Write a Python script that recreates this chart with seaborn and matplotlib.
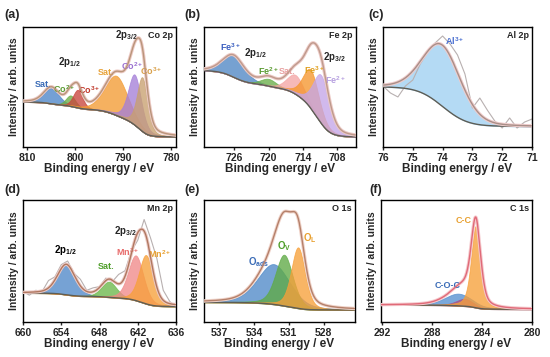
import matplotlib
matplotlib.use("Agg")
import matplotlib.pyplot as plt
import numpy as np
import seaborn as sns

# (a) Co 2p  -- peak centre (eV), height (axes fraction), sigma (eV)
co_labels = ["Sat.", "Co$^{2+}$", "Co$^{3+}$", "Sat.", "Co$^{2+}$", "Co$^{3+}$"]
co_centers = [804.9, 800.9, 799.4, 791.4, 787.6, 786.0]
co_heights = [0.13, 0.09, 0.15, 0.33, 0.42, 0.45]
co_sigmas = [1.6, 1.0, 1.0, 2.4, 1.35, 1.1]
co_bg = [0.375, 0.083]
co_ticks = [810, 800, 790, 780]

# (b) Fe 2p
fe_labels = ["Fe$^{3+}$", "Fe$^{2+}$", "Sat.", "Fe$^{3+}$", "Fe$^{2+}$"]
fe_centers = [726.1, 720.0, 715.3, 712.6, 710.8]
fe_heights = [0.18, 0.06, 0.16, 0.32, 0.40]
fe_sigmas = [1.9, 1.4, 1.5, 1.4, 1.4]
fe_bg = [0.636, 0.083]
fe_ticks = [726, 720, 714, 708]

# (c) Al 2p
al_labels = ["Al$^{3+}$"]
al_centers = [74.0]
al_heights = [0.51]
al_sigmas = [0.64]
al_bg = [0.50, 0.17]
al_ticks = [76, 75, 74, 73, 72, 71]
al_raw_e = [76.0, 75.75, 75.5, 75.25, 75.0, 74.75, 74.5, 74.25, 74.0, 73.75, 73.5,
            73.25, 73.0, 72.75, 72.5, 72.25, 72.0, 71.75, 71.5, 71.25, 71.0]
al_raw_i = [0.508, 0.45, 0.417, 0.508, 0.558, 0.692, 0.792, 0.867, 0.925, 0.858, 0.767,
            0.608, 0.325, 0.408, 0.308, 0.217, 0.158, 0.242, 0.158, 0.208, 0.233]

# (d) Mn 2p
mn_labels = ["2p$_{1/2}$", "Sat.", "Mn$^{3+}$", "Mn$^{2+}$"]
mn_centers = [653.2, 646.5, 642.3, 640.7]
mn_heights = [0.245, 0.128, 0.37, 0.40]
mn_sigmas = [1.4, 1.2, 1.2, 1.1]
mn_bg = [0.237, 0.127]
mn_ticks = [660, 654, 648, 642, 636]
mn_raw_e = list(range(660, 635, -1))
mn_raw_i = [0.25, 0.22, 0.26, 0.25, 0.34, 0.37, 0.47, 0.50, 0.40, 0.35, 0.26, 0.28, 0.29,
            0.36, 0.33, 0.39, 0.42, 0.58, 0.67, 0.84, 0.69, 0.52, 0.26, 0.17, 0.12]

# (e) O 1s
o_labels = ["O$_{ads}$", "O$_{V}$", "O$_{L}$"]
o_centers = [532.3, 531.4, 530.2]
o_heights = [0.33, 0.42, 0.50]
o_sigmas = [1.4, 0.75, 0.6]
o_bg = [0.161, 0.098]
o_ticks = [537, 534, 531, 528]

# (f) C 1s
c_labels = ["C-O-C", "", "C-C"]
c_centers = [285.9, 285.4, 284.5]
c_heights = [0.10, 0.06, 0.67]
c_sigmas = [1.1, 0.7, 0.38]
c_bg = [0.139, 0.104]
c_ticks = [292, 288, 284, 280]


def voigt(e, c, h, s, eta=0.3):
    g = np.exp(-(e - c) ** 2 / (2 * s * s))
    lor = 1.0 / (1.0 + ((e - c) / (1.1774 * s)) ** 2)
    return h * ((1 - eta) * g + eta * lor)


def shirley(e, comps, hi, lo):
    tot = np.sum(comps, axis=0)
    cum = np.cumsum(tot)
    return lo + (hi - lo) * cum / cum[-1]


sns.set_theme(style="ticks")
plt.rcParams["font.family"] = ["Liberation Sans", "DejaVu Sans"]
plt.rcParams["font.weight"] = "bold"
plt.rcParams["axes.labelweight"] = "bold"
plt.rcParams["mathtext.fontset"] = "custom"
plt.rcParams["mathtext.bf"] = "Liberation Sans:bold"
plt.rcParams["mathtext.rm"] = "Liberation Sans:bold"
plt.rcParams["mathtext.default"] = "bf"

fig = plt.figure(figsize=(5.5, 3.57), dpi=100)
W, H = 550, 357


def make_ax(x0, x1, y0, y1):
    return fig.add_axes([x0 / W, 1 - y1 / H, (x1 - x0) / W, (y1 - y0) / H])


panels = [
    dict(ax=make_ax(23, 176, 27, 147), xlim=(810.8, 779.0), ticks=co_ticks,
         c=co_centers, h=co_heights, s=co_sigmas, bg=co_bg, eta=0.35, name="Co 2p",
         fills=["#4d86c8", "#6cae45", "#c8453c", "#f39c33", "#a57fd8", "#c8a070"],
         env=("#ecc9c4", "#b9957a"), tag="(a)", tagpos=(12, 15)),
    dict(ax=make_ax(204, 356, 27, 147), xlim=(731.3, 704.7), ticks=fe_ticks,
         c=fe_centers, h=fe_heights, s=fe_sigmas, bg=fe_bg, eta=0.35, name="Fe 2p",
         fills=["#4f87c4", "#6aaf4a", "#f4a6a6", "#f5962e", "#c5a6e8"],
         env=("#eccac6", "#bf9a8c"), tag="(b)", tagpos=(192, 15)),
    dict(ax=make_ax(383, 532, 27, 147), xlim=(76, 71), ticks=al_ticks,
         c=al_centers, h=al_heights, s=al_sigmas, bg=al_bg, eta=0.2, name="Al 2p",
         fills=["#9fd0f2"], env=("#f0cccc", "#a88f88"), tag="(c)", tagpos=(376, 15),
         raw=(al_raw_e, al_raw_i)),
    dict(ax=make_ax(23, 176, 200, 322), xlim=(660, 636), ticks=mn_ticks,
         c=mn_centers, h=mn_heights, s=mn_sigmas, bg=mn_bg, eta=0.3, name="Mn 2p",
         fills=["#5088c8", "#6cb84a", "#f08a8a", "#f7a03a"],
         env=("#eccac6", "#b07860"), tag="(d)", tagpos=(12, 190),
         raw=(mn_raw_e, mn_raw_i)),
    dict(ax=make_ax(204, 355, 200, 322), xlim=(538.3, 525.3), ticks=o_ticks,
         c=o_centers, h=o_heights, s=o_sigmas, bg=o_bg, eta=0.35, name="O 1s",
         fills=["#4f8ac8", "#5faa45", "#f7a03a"],
         env=("#efd2c8", "#b5806a"), tag="(e)", tagpos=(192, 190)),
    dict(ax=make_ax(381, 532, 200, 322), xlim=(292.1, 280), ticks=c_ticks,
         c=c_centers, h=c_heights, s=c_sigmas, bg=c_bg, eta=0.45, name="C 1s",
         fills=["#5590d0", "#a8508a", "#f7a03a"],
         env=("#f5c8cc", "#e06a78"), tag="(f)", tagpos=(376, 190)),
]

bg_color = "#5d5d55"

for p in panels:
    ax = p["ax"]
    lo, hi = min(p["xlim"]), max(p["xlim"])
    e = np.linspace(lo, hi, 800)
    comps = [voigt(e, c, h, s, p["eta"]) for c, h, s in zip(p["c"], p["h"], p["s"])]
    bg = shirley(e, comps, p["bg"][0], p["bg"][1])
    for comp, col in zip(comps, p["fills"]):
        ax.fill_between(e, bg, bg + comp, color=col, alpha=0.78, lw=0.6, zorder=1)
    env = bg + np.sum(comps, axis=0)
    if "raw" in p:
        sns.lineplot(x=p["raw"][0], y=p["raw"][1], ax=ax, color="#b8b0b0", lw=0.8, zorder=2)
    sns.lineplot(x=e, y=bg, ax=ax, color=bg_color, lw=1.0, zorder=3)
    sns.lineplot(x=e, y=env, ax=ax, color=p["env"][0], lw=2.4, zorder=3)
    sns.lineplot(x=e, y=env, ax=ax, color=p["env"][1], lw=1.0, zorder=4)

    ax.set_xlim(p["xlim"])
    ax.set_ylim(0, 1)
    ax.set_xticks(p["ticks"])
    ax.set_xticklabels([str(t) for t in p["ticks"]])
    ax.set_yticks([])
    ax.tick_params(axis="x", labelsize=7.5, width=1, length=2.5, pad=1.5, direction="out")
    for sp in ax.spines.values():
        sp.set_visible(True)
        sp.set_linewidth(1.0)
        sp.set_color("black")
    ax.set_xlabel("Binding energy / eV", fontsize=8.5, labelpad=0.5)
    ax.set_ylabel("Intensity / arb. units", fontsize=7.5, labelpad=3)
    ax.text(0.98, 0.97, p["name"], transform=ax.transAxes, ha="right", va="top",
            fontsize=6.5, fontweight="bold")
    fig.text(p["tagpos"][0] / W, 1 - p["tagpos"][1] / H, p["tag"], ha="center",
             va="center", fontsize=9, fontweight="bold")

fs = 6.5
axa, axb, axc, axd, axe, axf = [p["ax"] for p in panels]

# (a) labels
for txt, x, y, col in zip(co_labels, [806.7, 802.3, 797.0, 793.6, 788.0, 784.2],
                          [0.517, 0.48, 0.47, 0.62, 0.675, 0.63],
                          ["#3b6cb7", "#5b9b32", "#c0392b", "#e8a33a", "#9a6fd0", "#d9a04a"]):
    axa.text(x, y, txt, color=col, fontsize=fs, ha="center", va="center")
axa.text(801.1, 0.71, "2p$_{1/2}$", fontsize=fs + 0.5, ha="center", va="center")
axa.text(789.4, 0.93, "2p$_{3/2}$", fontsize=fs + 0.5, ha="center", va="center")

# (b) labels
for txt, x, y, col in zip(fe_labels, [726.6, 720.0, 716.7, 712.0, 708.3],
                          [0.836, 0.63, 0.63, 0.64, 0.56],
                          ["#3b5fc0", "#5b9b32", "#e8a0a0", "#e0a020", "#b7a0e0"]):
    axb.text(x, y, txt, color=col, fontsize=fs, ha="center", va="center")
axb.text(722.3, 0.786, "2p$_{1/2}$", fontsize=fs + 0.5, ha="center", va="center")
axb.text(708.5, 0.75, "2p$_{3/2}$", fontsize=fs + 0.5, ha="center", va="center")

# (c) label
axc.text(73.6, 0.88, al_labels[0], color="#4a6fd0", fontsize=fs, ha="center", va="center")

# (d) labels
for txt, x, y, col in zip(mn_labels, [653.3, 647.0, 643.5, 638.5],
                          [0.587, 0.452, 0.576, 0.56],
                          ["black", "#4f9e2a", "#e86a6a", "#e8a030"]):
    axd.text(x, y, txt, color=col, fontsize=fs + (0.5 if col == "black" else 0),
             ha="center", va="center")
axd.text(644.0, 0.746, "2p$_{3/2}$", fontsize=fs + 0.5, ha="center", va="center")

# (e) labels
for txt, x, y, col in zip(o_labels, [533.6, 531.4, 529.2], [0.494, 0.62, 0.69],
                          ["#3b6cb7", "#4f9e2a", "#e8a030"]):
    axe.text(x, y, txt, color=col, fontsize=fs + 0.5, ha="center", va="center")

# (f) labels
axf.text(286.8, 0.303, c_labels[0], color="#3b6cb7", fontsize=fs, ha="center", va="center")
axf.text(285.5, 0.83, c_labels[2], color="#e8a030", fontsize=fs, ha="center", va="center")

fig.savefig("out.png", dpi=100)
